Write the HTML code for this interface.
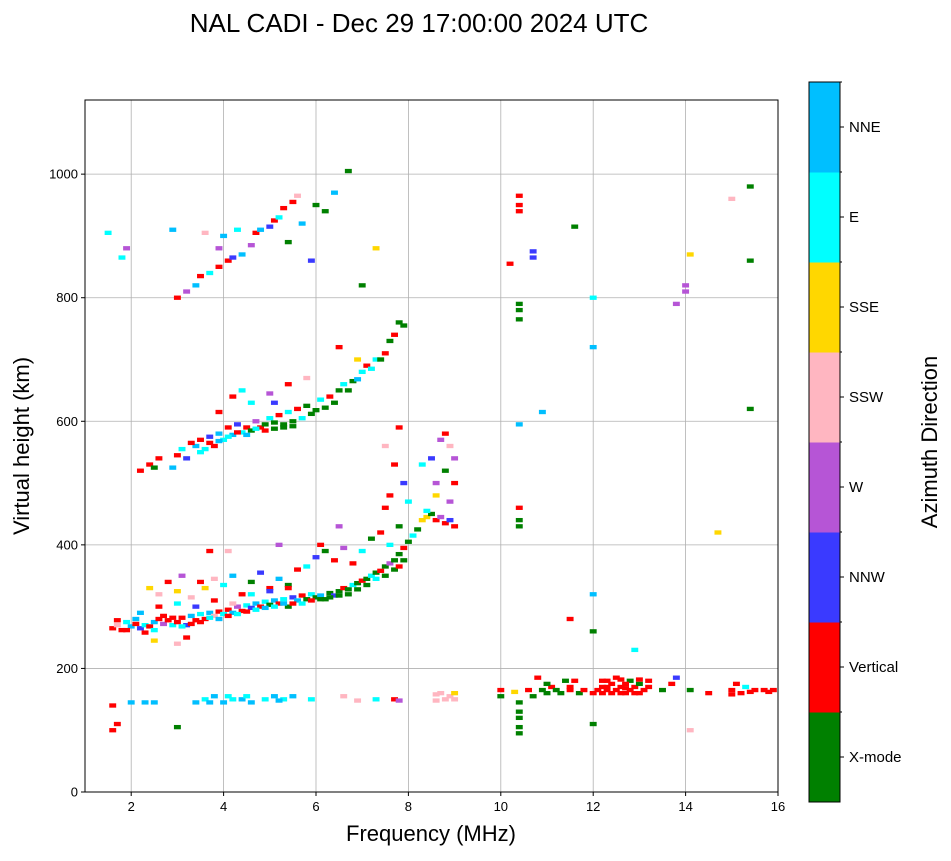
<!DOCTYPE html>
<html><head><meta charset="utf-8"><style>
body{margin:0;background:#fff;font-family:"Liberation Sans",sans-serif;}
svg text{font-family:"Liberation Sans",sans-serif;}
</style></head><body>
<svg id="chart" width="951" height="856" viewBox="0 0 951 856" xmlns="http://www.w3.org/2000/svg">
<rect width="951" height="856" fill="#fff"/>
<text x="419" y="32" font-size="26" text-anchor="middle">NAL CADI - Dec 29 17:00:00 2024 UTC</text>
<g id="grid"></g>
<g id="marks"></g>
<rect x="85" y="100" width="693" height="692" fill="none" stroke="#000" stroke-width="1"/>
<g id="ticks"></g>
<text x="431" y="841" font-size="22" text-anchor="middle">Frequency (MHz)</text>
<text transform="translate(29,446) rotate(-90)" font-size="22" text-anchor="middle">Virtual height (km)</text>
<g id="cbar"></g>
<text transform="translate(937,442) rotate(-90)" font-size="22" text-anchor="middle">Azimuth Direction</text>
</svg>
<script>
const xTicks=[2,4,6,8,10,12,14,16];
const yTicks=[0,200,400,600,800,1000];
const dirNames=["X-mode","Vertical","NNW","W","SSW","SSE","E","NNE"];
const dirColors=["#008000","#ff0000","#3a3aff","#b655d6","#ffb6c1","#ffd700","#00ffff","#00bfff"];
const echoes=[
[1.6,265,1],[1.7,270,4],[1.8,262,1],[1.9,275,6],[2.0,268,7],[2.1,272,1],[2.2,265,2],[2.3,270,6],[2.4,268,1],[2.5,275,7],[2.6,280,1],[2.7,272,3],[2.8,278,1],[2.9,270,6],[3.0,275,1],[3.1,282,1],[3.2,270,2],[3.3,285,7],[3.4,278,1],[3.5,288,6],[3.6,280,1],[3.7,290,7],[3.8,285,4],[3.9,292,1],[4.0,288,6],[4.1,295,1],[4.2,290,7],[4.3,300,3],[4.4,293,1],[4.5,302,6],[4.6,298,2],[4.7,305,7],[4.8,300,1],[4.9,308,6],[5.0,303,0],[5.1,310,7],[5.2,305,1],[5.3,312,6],[5.4,300,0],[5.5,315,2],[5.6,310,7],[5.7,318,1],[5.8,312,0],[5.9,320,6],[6.0,315,0],[6.1,318,7],[6.2,312,0],[6.3,322,0],[6.4,318,2],[6.5,325,0],[6.6,330,1],[6.7,328,0],[6.8,335,6],[6.9,338,0],[7.0,342,1],[7.1,345,0],[7.2,350,6],[7.3,355,0],[7.4,358,1],[7.5,365,0],[7.6,370,3],[7.7,375,0],[7.8,385,0],[7.9,395,1],[8.0,405,0],[8.1,415,6],[8.2,425,0],[8.3,440,5],[8.4,445,5],[8.5,450,0],[8.6,440,1],[8.7,445,3],[8.8,435,1],[8.9,440,2],[9.0,430,1],
[1.7,278,1],[1.9,262,1],[2.1,280,7],[2.3,258,1],[2.5,262,6],[2.7,285,1],[2.9,282,1],[3.1,268,6],[3.3,272,1],[3.5,275,1],[3.7,282,6],[3.9,280,7],[4.1,285,1],[4.3,288,6],[4.5,292,1],[4.7,295,6],[4.9,298,7],[5.1,300,6],[5.3,305,7],[5.5,305,1],[5.7,305,6],[5.9,310,1],[6.1,312,0],[6.3,315,0],[6.5,318,0],[6.7,320,0],[6.9,328,0],[7.1,335,0],[7.3,345,6],[7.5,350,0],[7.7,360,0],[7.9,375,0],[7.8,365,1],
[2.4,330,5],[2.6,320,4],[2.8,340,1],[3.0,325,5],[3.1,350,3],[3.3,315,4],[3.5,340,1],[3.6,330,5],[3.8,345,4],[4.0,335,6],[4.2,350,7],[4.4,320,1],[4.6,340,0],[4.8,355,2],[5.0,330,1],[5.2,345,7],[5.4,335,0],[5.6,360,1],[5.8,365,6],[6.0,380,2],[6.2,390,0],[6.4,375,1],[6.6,395,3],[6.8,370,1],[7.0,390,6],[7.2,410,0],[7.4,420,1],[7.6,400,6],[7.8,430,0],[2.2,290,7],[2.6,300,1],[3.0,305,6],[3.4,300,2],[3.8,310,1],[4.2,305,4],[4.6,320,6],[5.0,325,2],[5.4,330,1],[3.2,250,1],[3.0,240,4],[2.5,245,5],[4.1,390,4],[3.7,390,1],[5.2,400,3],[6.1,400,1],[6.5,430,3],[7.5,460,1],[8.0,470,6],[7.9,500,2],[8.6,500,3],[8.8,520,0],[8.5,540,2],[8.7,570,3],[8.9,560,4],[8.8,580,1],[9.0,540,3],[8.3,530,6],[8.6,480,5],[9.0,500,1],[8.9,470,3],[8.4,455,6],[7.6,480,1],[7.7,530,1],[7.5,560,4],[7.8,590,1],
[2.2,520,1],[2.4,530,1],[2.5,525,0],[2.6,540,1],[2.9,525,7],[3.0,545,1],[3.1,555,6],[3.2,540,2],[3.4,560,7],[3.5,570,1],[3.6,555,6],[3.7,575,2],[3.8,560,1],[3.9,580,7],[4.0,570,6],[4.1,590,1],[4.2,578,7],[4.3,595,2],[4.4,582,6],[4.5,590,1],[4.6,585,0],[4.7,600,3],[4.8,590,1],[4.9,595,0],[5.0,605,6],[5.1,598,0],[5.2,610,1],[5.3,595,0],[5.4,615,6],[5.5,600,0],[5.6,620,1],[5.8,625,0],[6.0,618,0],[6.1,635,6],[6.3,640,1],[6.5,650,0],[6.6,660,6],[6.8,665,0],[7.0,680,6],[7.1,690,1],[7.3,700,6],[7.5,710,1],[7.6,730,0],[7.7,740,1],[7.9,755,0],[4.2,640,1],[4.6,630,6],[5.0,645,3],[5.4,660,1],[5.8,670,4],[6.5,720,1],[6.9,700,5],[3.9,615,1],[4.4,650,6],[5.1,630,2],
[3.3,565,1],[3.5,550,6],[3.7,565,1],[3.9,568,7],[4.1,575,6],[4.3,582,1],[4.5,578,7],[4.7,588,6],[4.9,585,1],[5.1,588,0],[5.3,590,0],[5.5,592,0],[5.7,605,6],[5.9,612,0],[6.2,622,0],[6.4,630,0],[6.7,650,0],[6.9,668,7],[7.2,685,6],[7.4,700,0],[7.8,760,0],
[3.0,800,1],[3.4,820,7],[3.5,835,1],[3.7,840,6],[3.9,850,1],[4.1,860,1],[4.2,865,2],[4.4,870,7],[4.6,885,3],[4.7,905,1],[4.8,910,7],[5.0,915,2],[5.1,925,1],[5.2,930,6],[5.3,945,1],[5.5,955,1],[5.6,965,4],[5.4,890,0],[5.7,920,7],[6.0,950,0],[6.2,940,0],[6.4,970,7],[6.7,1005,0],[4.0,900,7],[4.3,910,6],[3.6,905,4],[1.5,905,6],[1.9,880,3],[1.8,865,6],[2.9,910,7],[3.2,810,3],[3.9,880,3],[5.9,860,2],[7.0,820,0],[7.3,880,5],
[1.6,140,1],[1.7,110,1],[1.6,100,1],[2.0,145,7],[2.3,145,7],[2.5,145,7],[3.0,105,0],[3.4,145,7],[3.6,150,6],[3.8,155,7],[4.0,145,7],[4.2,150,6],[4.4,150,7],[4.6,145,7],[4.9,150,6],[5.1,155,7],[5.3,150,6],[5.5,155,7],[5.9,150,6],[6.6,155,4],[6.9,148,4],[7.3,150,6],[7.7,150,1],[7.8,148,3],[8.6,148,4],[8.7,160,4],[8.9,155,4],[9.0,160,5],[9.0,150,4],[8.6,158,4],[8.8,150,4],[3.7,145,7],[4.1,155,6],[4.5,155,6],[5.2,148,7],
[10.0,155,0],[10.0,165,1],[10.3,162,5],[10.4,145,0],[10.4,120,0],[10.4,95,0],[10.4,105,0],[10.4,130,0],[10.6,165,1],[10.7,155,0],[10.8,185,1],[11.0,160,0],[11.1,170,1],[11.3,160,0],[11.4,180,0],[11.5,165,1],[11.6,180,1],[11.7,160,0],[11.8,165,1],[12.0,160,1],[12.2,180,1],[12.3,170,1],[12.4,160,1],[12.5,185,1],[12.6,170,1],[12.7,160,1],[12.8,180,0],[12.9,170,1],[13.0,160,1],[13.2,180,1],[13.0,175,0],[13.5,165,0],[13.7,175,1],[13.8,185,2],[14.1,165,0],[14.5,160,1],[15.0,165,1],[15.1,175,1],[15.3,170,6],[15.5,165,1],[15.7,165,1],[15.9,165,1],
[12.1,165,1],[12.2,160,1],[12.3,165,1],[12.4,175,1],[12.5,165,1],[12.6,160,1],[12.7,175,1],[12.8,165,1],[12.9,160,1],[13.1,165,1],[13.2,170,1],[12.3,180,1],[12.6,182,1],[13.0,182,1],[12.2,170,1],[12.7,168,1],[11.2,165,0],[11.5,170,1],[11.0,175,0],[10.9,165,0],[15.2,160,1],[15.4,162,1],[15.8,162,1],[15.0,158,1],
[12.0,110,0],[12.0,260,0],[12.0,320,7],[12.0,720,7],[12.0,800,6],[10.4,950,1],[10.4,965,1],[10.4,940,1],[10.4,780,0],[10.4,790,0],[10.4,765,0],[10.4,440,0],[10.4,460,1],[10.4,430,0],[10.4,595,7],[10.2,855,1],[10.7,875,2],[10.7,865,2],[11.5,280,1],[11.6,915,0],[14.0,810,3],[14.0,820,3],[14.1,870,5],[13.8,790,3],[14.7,420,5],[15.0,960,4],[15.4,980,0],[15.4,860,0],[15.4,620,0],[12.9,230,6],[14.1,100,4],[10.9,615,7]
];
const NS="http://www.w3.org/2000/svg";
const X0=85,X1=778,Y0=792,Y1=100,FMIN=1,FMAX=16,HMIN=0,HMAX=1120;
function xs(f){return X0+(f-FMIN)/(FMAX-FMIN)*(X1-X0);}
function ys(h){return Y0-(h-HMIN)/(HMAX-HMIN)*(Y0-Y1);}
function mk(tag,attrs,parent){const e=document.createElementNS(NS,tag);for(const k in attrs)e.setAttribute(k,attrs[k]);parent.appendChild(e);return e;}
const grid=document.getElementById('grid'),ticks=document.getElementById('ticks'),marks=document.getElementById('marks'),cbar=document.getElementById('cbar');
xTicks.forEach(t=>{const x=xs(t);
 const g=mk('line',{x1:x,x2:x,y1:Y1,y2:Y0,stroke:'#b0b0b0','stroke-width':0.8},grid);
 
 
 mk('line',{x1:x,x2:x,y1:Y0,y2:Y0+4,stroke:'#000'},ticks);
 const tx=mk('text',{x:x,y:Y0+19,'font-size':13,'text-anchor':'middle'},ticks);tx.textContent=t;
 
 
});
yTicks.forEach(t=>{const y=ys(t);
 const g=mk('line',{x1:X0,x2:X1,y1:y,y2:y,stroke:'#b0b0b0','stroke-width':0.8},grid);
 
 
 mk('line',{x1:X0-4,x2:X0,y1:y,y2:y,stroke:'#000'},ticks);
 const tx=mk('text',{x:X0-7,y:y+4.5,'font-size':13,'text-anchor':'end'},ticks);tx.textContent=t;
 
 
});
const dw=0.15,dh=7;
echoes.forEach(e=>{
 const r=mk('rect',{x:xs(e[0]-dw/2),y:ys(e[1]+dh/2),width:xs(e[0]+dw/2)-xs(e[0]-dw/2),height:ys(e[1]-dh/2)-ys(e[1]+dh/2),fill:dirColors[e[2]]},marks);
 
 
});
const CX=809,CW=31,CT=82,CB=802,seg=(CB-CT)/dirNames.length;
dirNames.forEach((n,i)=>{const yb=CB-(i+1)*seg;
 const r=mk('rect',{x:CX,y:yb,width:CW,height:seg+0.5,fill:dirColors[i]},cbar);
 
 
 const yc=yb+seg/2;
 mk('line',{x1:CX+CW,x2:CX+CW+4,y1:yc,y2:yc,stroke:'#000'},cbar);
 mk('line',{x1:CX+CW,x2:CX+CW+2,y1:yb,y2:yb,stroke:'#000'},cbar);
 const tx=mk('text',{x:CX+CW+9,y:yc+5,'font-size':15},cbar);tx.textContent=n;
 
 
});
mk('rect',{x:CX,y:CT,width:CW,height:CB-CT,fill:'none',stroke:'#000','stroke-width':1},cbar);
</script>
</body></html>
